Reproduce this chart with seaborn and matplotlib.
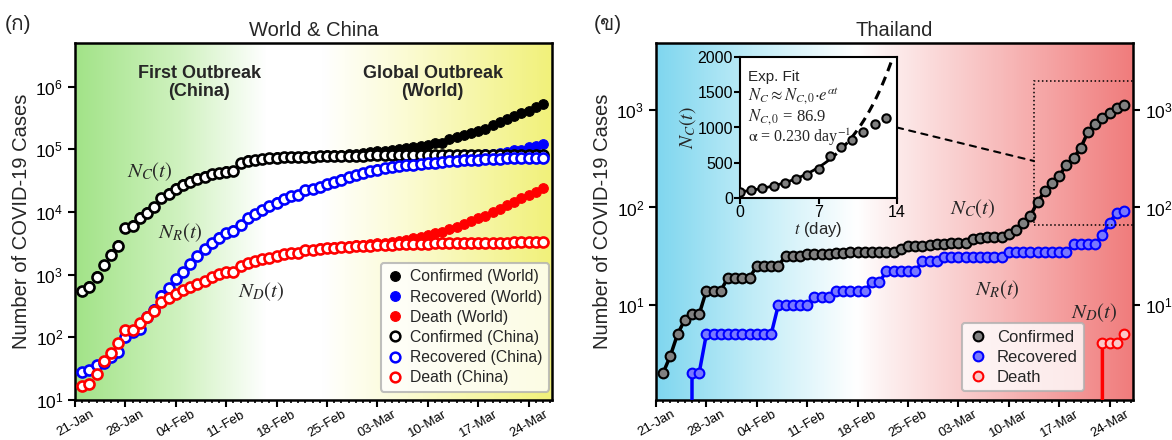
import numpy as np
import pandas as pd
import matplotlib
matplotlib.use("Agg")
import matplotlib.pyplot as plt
import matplotlib.dates as mdates
from matplotlib.colors import LinearSegmentedColormap
from matplotlib.lines import Line2D
from matplotlib.patches import Rectangle, ConnectionPatch
from matplotlib.ticker import NullLocator, FixedLocator
from matplotlib import font_manager, ft2font
import seaborn as sns

# ---------------- data ----------------
days_world = pd.date_range("2020-01-22", "2020-03-26", freq="D")
days_thai = pd.date_range("2020-01-22", "2020-03-26", freq="D")

world_confirmed = [555, 654, 941, 1434, 2118, 2927, 5578, 6166, 8234, 9927,
                   12038, 16787, 19881, 23892, 27635, 30794, 34391, 37120, 40150, 42762,
                   44802, 45221, 60368, 66885, 69030, 71224, 73258, 75136, 75639, 76197,
                   76819, 78572, 78958, 79561, 80406, 81388, 82746, 84112, 86011,
                   88369, 90306, 92840, 95120, 97886, 101801, 105847, 109821, 113590, 118620,
                   125875, 128352, 145205, 156101, 167454, 181574, 197102, 214821, 242570, 272208,
                   304507, 336953, 378231, 418041, 467653, 529591]
world_recovered = [28, 30, 36, 39, 52, 61, 107, 126, 143, 222,
                   284, 472, 623, 852, 1124, 1487, 2011, 2616, 3244, 3946,
                   4683, 5150, 6295, 8058, 9395, 10865, 12583, 14352, 16121, 18177,
                   18890, 22886, 23394, 25227, 27905, 30384, 33277, 36711, 39782,
                   42716, 45602, 48228, 51170, 53796, 55865, 58358, 60694, 62494, 64404,
                   67003, 68324, 70251, 72624, 76034, 78088, 80840, 83207, 84854, 87256,
                   91676, 97243, 98334, 107705, 113770, 122150]
world_death = [17, 18, 26, 42, 56, 82, 131, 133, 171, 213,
               259, 362, 426, 492, 564, 634, 719, 806, 906, 1013,
               1113, 1118, 1371, 1523, 1666, 1770, 1868, 2007, 2122, 2247,
               2251, 2458, 2469, 2629, 2708, 2770, 2814, 2872, 2941,
               2996, 3085, 3160, 3254, 3348, 3460, 3558, 3802, 3988, 4262,
               4615, 4720, 5404, 5819, 6440, 7126, 7905, 8733, 9867, 11299,
               13015, 14623, 16497, 18615, 21181, 23970]
china_confirmed = [548, 643, 920, 1406, 2075, 2877, 5509, 6087, 8141, 9802,
                   11891, 16630, 19716, 23707, 27440, 30587, 34110, 36814, 39829, 42354,
                   44386, 44759, 59895, 66358, 68413, 70513, 72434, 74211, 74619, 75077,
                   75550, 77001, 77022, 77241, 77754, 78166, 78600, 78928, 79356,
                   79932, 80136, 80261, 80386, 80537, 80690, 80770, 80823, 80860, 80887,
                   80921, 80932, 80945, 80977, 81003, 81033, 81058, 81102, 81156, 81250,
                   81305, 81435, 81498, 81591, 81661, 81782]
china_recovered = [28, 30, 36, 39, 49, 58, 101, 120, 135, 214,
                   275, 463, 614, 843, 1115, 1476, 1998, 2595, 3218, 3917,
                   4635, 5079, 6213, 7973, 9294, 10748, 12455, 14199, 15952, 18002,
                   18693, 22687, 23170, 24990, 27650, 30053, 33002, 36295, 39279,
                   42162, 44854, 47450, 50001, 52292, 53944, 55539, 57388, 58804, 60181,
                   61644, 62901, 64196, 65660, 67017, 67910, 68798, 69755, 70535, 71266,
                   71857, 72362, 72814, 73280, 73773, 74181]
china_death = [17, 18, 26, 42, 56, 82, 131, 133, 171, 213,
               259, 361, 425, 490, 562, 632, 717, 804, 904, 1011,
               1111, 1116, 1368, 1520, 1662, 1765, 1863, 2002, 2114, 2236,
               2236, 2441, 2443, 2593, 2663, 2715, 2744, 2788, 2835,
               2870, 2912, 2945, 2981, 3013, 3045, 3073, 3099, 3123, 3140,
               3162, 3173, 3180, 3193, 3203, 3217, 3230, 3241, 3249, 3253,
               3259, 3274, 3274, 3281, 3285, 3291]

thai_confirmed = [2, 3, 5, 7, 8, 8, 14, 14, 14, 19,
                  19, 19, 19, 25, 25, 25, 25, 32, 32, 32,
                  33, 33, 33, 33, 34, 34, 35, 35, 35, 35,
                  35, 35, 35, 37, 40, 40, 40, 41, 42,
                  42, 43, 43, 43, 47, 48, 50, 50, 50, 53,
                  59, 70, 82, 114, 147, 177, 212, 272, 322, 411,
                  599, 721, 827, 934, 1045, 1136]
thai_recovered = [0, 0, 0, 0, 2, 2, 5, 5, 5, 5,
                  5, 5, 5, 5, 5, 5, 10, 10, 10, 10,
                  10, 12, 12, 12, 14, 14, 14, 14, 14, 17,
                  17, 22, 22, 22, 22, 22, 28, 28, 28,
                  31, 31, 31, 31, 31, 31, 31, 31, 31, 35,
                  35, 35, 35, 35, 35, 35, 35, 35, 42, 42,
                  42, 42, 52, 70, 88, 91]
thai_death = [0] * 61 + [4, 4, 4, 5]

# exponential fit shown in the inset
fit_n0 = 86.9
fit_alpha = 0.230
inset_days = list(range(14))
inset_values = thai_confirmed[-14:]

# ---------------- style ----------------
def find_thai_font():
    for f in font_manager.fontManager.ttflist:
        try:
            if 0x0E01 in ft2font.FT2Font(f.fname).get_charmap():
                return f.name
        except Exception:
            pass
    return None

sns.set_style("ticks")
thai_font = find_thai_font()
families = ["Liberation Sans"] + ([thai_font] if thai_font else []) + ["DejaVu Sans"]
plt.rcParams["font.family"] = families
plt.rcParams["mathtext.fontset"] = "stix"
plt.rcParams["axes.linewidth"] = 1.6
plt.rcParams["xtick.major.width"] = 1.5
plt.rcParams["ytick.major.width"] = 1.5
plt.rcParams["xtick.minor.width"] = 1.2
plt.rcParams["xtick.major.size"] = 5
plt.rcParams["xtick.minor.size"] = 2.5
plt.rcParams["ytick.major.size"] = 5
plt.rcParams["xtick.color"] = "black"
plt.rcParams["ytick.color"] = "black"
plt.rcParams["axes.edgecolor"] = "black"

fig = plt.figure(figsize=(11.72, 4.40), dpi=100)
W, H = 1172, 440

def box(x0, y0, x1, y1):
    return [x0 / W, 1 - y1 / H, (x1 - x0) / W, (y1 - y0) / H]

pos_left = box(75, 43, 552, 400)
pos_right = box(656, 43, 1133, 400)

cmap_left = LinearSegmentedColormap.from_list(
    "wc", [(0, "#a2e388"), (0.22, "#d0f2c0"), (0.40, "#ffffff"), (0.52, "#ffffff"),
           (0.70, "#fbfbd2"), (1, "#f1f17a")])
cmap_right = LinearSegmentedColormap.from_list(
    "th", [(0, "#7fd6ef"), (0.2, "#c0ecf7"), (0.42, "#ffffff"), (0.48, "#fdf0f0"),
           (0.75, "#f7b5b5"), (1, "#f07c7c")])

grad = np.linspace(0, 1, 512)[None, :]
for pos, cm in [(pos_left, cmap_left), (pos_right, cmap_right)]:
    bg = fig.add_axes(pos, zorder=0)
    bg.imshow(grad, cmap=cm, aspect="auto", extent=[0, 1, 0, 1])
    bg.axis("off")

axL = fig.add_axes(pos_left, zorder=1)
axR = fig.add_axes(pos_right, zorder=1)

xlim = (pd.Timestamp("2020-01-21"), pd.Timestamp("2020-03-27 06:00"))
major_days = pd.date_range("2020-01-21", "2020-03-24", freq="7D")

for ax in (axL, axR):
    ax.set_facecolor("none")
    ax.set_yscale("log")

# ---------------- World & China ----------------
blue = "#0000ff"
red = "#ff0000"
filled = [(world_confirmed, "black"), (world_recovered, blue), (world_death, red)]
opened = [(china_confirmed, "black"), (china_recovered, blue), (china_death, red)]
for vals, c in filled:
    sns.scatterplot(x=days_world, y=vals, ax=axL, color=c, edgecolor=c,
                    s=48, linewidth=0.8, zorder=3)
for vals, c in opened:
    sns.scatterplot(x=days_world, y=vals, ax=axL, color="white", edgecolor=c,
                    s=52, linewidth=1.9, zorder=4)

axL.set_ylim(10, 5e6)
axL.yaxis.set_major_locator(FixedLocator([1e1, 1e2, 1e3, 1e4, 1e5, 1e6]))
axL.yaxis.set_minor_locator(NullLocator())
axL.set_title("World & China", fontsize=14.5, pad=5)

axL.text(0.26, 0.89, "First Outbreak\n(China)", transform=axL.transAxes,
         ha="center", va="center", fontsize=13, fontweight="bold", linespacing=1.1)
axL.text(0.75, 0.89, "Global Outbreak\n(World)", transform=axL.transAxes,
         ha="center", va="center", fontsize=13, fontweight="bold", linespacing=1.1)
axL.text(0.157, 0.64, r"$N_C(t)$", transform=axL.transAxes, ha="center", va="center", fontsize=15)
axL.text(0.22, 0.468, r"$N_R(t)$", transform=axL.transAxes, ha="center", va="center", fontsize=15)
axL.text(0.39, 0.303, r"$N_D(t)$", transform=axL.transAxes, ha="center", va="center", fontsize=15)

handles_L = []
for lbl, c, fc in [("Confirmed (World)", "black", "black"), ("Recovered (World)", blue, blue),
                   ("Death (World)", red, red), ("Confirmed (China)", "black", "white"),
                   ("Recovered (China)", blue, "white"), ("Death (China)", red, "white")]:
    handles_L.append(Line2D([], [], ls="none", marker="o", ms=7, mfc=fc, mec=c,
                            mew=1.8 if fc == "white" else 0.8, label=lbl))
legL = axL.legend(handles=handles_L, loc="lower right", fontsize=11.3, frameon=True,
                  labelspacing=0.33, handletextpad=0.45, borderpad=0.4, borderaxespad=0.2,
                  bbox_to_anchor=(1.0, 0.015), handlelength=1.0)
legL.get_frame().set_edgecolor("#b0b0b0")
legL.get_frame().set_linewidth(1.5)
legL.get_frame().set_alpha(0.8)

# ---------------- Thailand ----------------
axR.plot(days_thai, thai_recovered, "-o", color=blue, lw=2.5, ms=7, mfc="#7878ff",
         mec=blue, mew=1.5, zorder=3)
axR.plot(days_thai, thai_death, "-o", color=red, lw=2.5, ms=7, mfc="#fbc8c8",
         mec=red, mew=1.5, zorder=3)
axR.plot(days_thai, thai_confirmed, "-o", color="black", lw=2.5, ms=7, mfc="#808080",
         mec="black", mew=1.5, zorder=4)

axR.set_ylim(1.05, 4900)
axR.yaxis.set_major_locator(FixedLocator([1e1, 1e2, 1e3]))
axR.yaxis.set_minor_locator(NullLocator())
axR.tick_params(axis="y", right=True, labelright=True)
axR.set_title("Thailand", fontsize=14.5, pad=5)

axR.text(0.665, 0.535, r"$N_C(t)$", transform=axR.transAxes, ha="center", va="center", fontsize=15)
axR.text(0.715, 0.31, r"$N_R(t)$", transform=axR.transAxes, ha="center", va="center", fontsize=15)
axR.text(0.918, 0.244, r"$N_D(t)$", transform=axR.transAxes, ha="center", va="center", fontsize=15)

handles_R = [Line2D([], [], ls="none", marker="o", ms=7, mfc="#808080", mec="black", mew=1.5, label="Confirmed"),
             Line2D([], [], ls="none", marker="o", ms=7, mfc="#7878ff", mec=blue, mew=1.5, label="Recovered"),
             Line2D([], [], ls="none", marker="o", ms=7, mfc="#fbc8c8", mec=red, mew=1.5, label="Death")]
legR = axR.legend(handles=handles_R, loc="lower right", fontsize=12, frameon=True,
                  labelspacing=0.3, handletextpad=0.5, borderpad=0.4, borderaxespad=0.2,
                  bbox_to_anchor=(0.905, 0.015), handlelength=1.2)
legR.get_frame().set_edgecolor("#b0b0b0")
legR.get_frame().set_linewidth(1.5)
legR.get_frame().set_alpha(0.8)

# zoom box
box_x0 = mdates.date2num(pd.Timestamp("2020-03-13 12:00"))
axR.add_patch(Rectangle((box_x0, 66), 30, 2000 - 66, fill=False, ls=":", lw=1.1,
                        color="black", zorder=5))

# shared axis cosmetics
for ax in (axL, axR):
    ax.set_xlim(xlim)
    ax.xaxis.set_major_locator(FixedLocator(mdates.date2num(major_days)))
    ax.xaxis.set_minor_locator(mdates.DayLocator())
    ax.xaxis.set_major_formatter(mdates.DateFormatter("%d-%b"))
    ax.tick_params(axis="x", labelsize=9.5, rotation=30, pad=1)
    ax.tick_params(axis="y", labelsize=12.5)
    for lab in ax.get_xticklabels():
        lab.set_ha("center")
    ax.set_xlabel("")
    ax.set_ylabel("Number of COVID-19 Cases", fontsize=14.5, labelpad=3)
    for s in ax.spines.values():
        s.set_visible(True)
        s.set_linewidth(1.8)

# ---------------- inset ----------------
axI = fig.add_axes(box(740, 57, 897, 198), zorder=6)
axI.set_facecolor("white")
t_solid = np.linspace(0, 8, 100)
t_dash = np.linspace(8, 14, 100)
sns.lineplot(x=t_solid, y=fit_n0 * np.exp(fit_alpha * t_solid), ax=axI, color="black", lw=2)
sns.lineplot(x=t_dash, y=fit_n0 * np.exp(fit_alpha * t_dash), ax=axI, color="black", lw=2.2,
             linestyle=(0, (3, 2)))
sns.scatterplot(x=inset_days, y=inset_values, ax=axI, color="#808080", edgecolor="black",
                s=36, linewidth=1.5, zorder=4)
axI.set_xlim(0, 14)
axI.set_ylim(0, 2000)
axI.set_xticks([0, 7, 14])
axI.set_yticks([0, 500, 1000, 1500, 2000])
axI.tick_params(labelsize=11.5, pad=1, length=4)
axI.set_xlabel(r"$t$ (day)", fontsize=12, labelpad=0)
axI.set_ylabel(r"$N_C(t)$", fontsize=14, labelpad=0)
for s in axI.spines.values():
    s.set_visible(True)
    s.set_linewidth(1.5)
axI.text(0.05, 0.86, "Exp. Fit", transform=axI.transAxes, fontsize=11, va="center")
axI.text(0.05, 0.72, r"$N_C \approx N_{C,0}{\cdot}e^{\alpha t}$", transform=axI.transAxes,
         fontsize=12, va="center")
axI.text(0.05, 0.575, r"$N_{C,0}$" + " = 86.9", transform=axI.transAxes, fontsize=12,
         va="center", family="Liberation Serif")
axI.text(0.05, 0.43, r"$\mathrm{\alpha}$ = 0.230 day$^{\mathrm{-1}}$", transform=axI.transAxes,
         fontsize=11.5, va="center", family="Liberation Serif")

con = ConnectionPatch(xyA=(1, 0.5), coordsA=axI.transAxes, xyB=(box_x0, 300),
                      coordsB=axR.transData, ls=(0, (3, 3)), lw=1.5, color="black", zorder=7)
fig.add_artist(con)

# panel labels
fig.text(5 / W, 1 - 25 / H, "(ก)", fontsize=15, va="center")
fig.text(594 / W, 1 - 25 / H, "(ข)", fontsize=15, va="center")

fig.savefig("out.png", dpi=100)
